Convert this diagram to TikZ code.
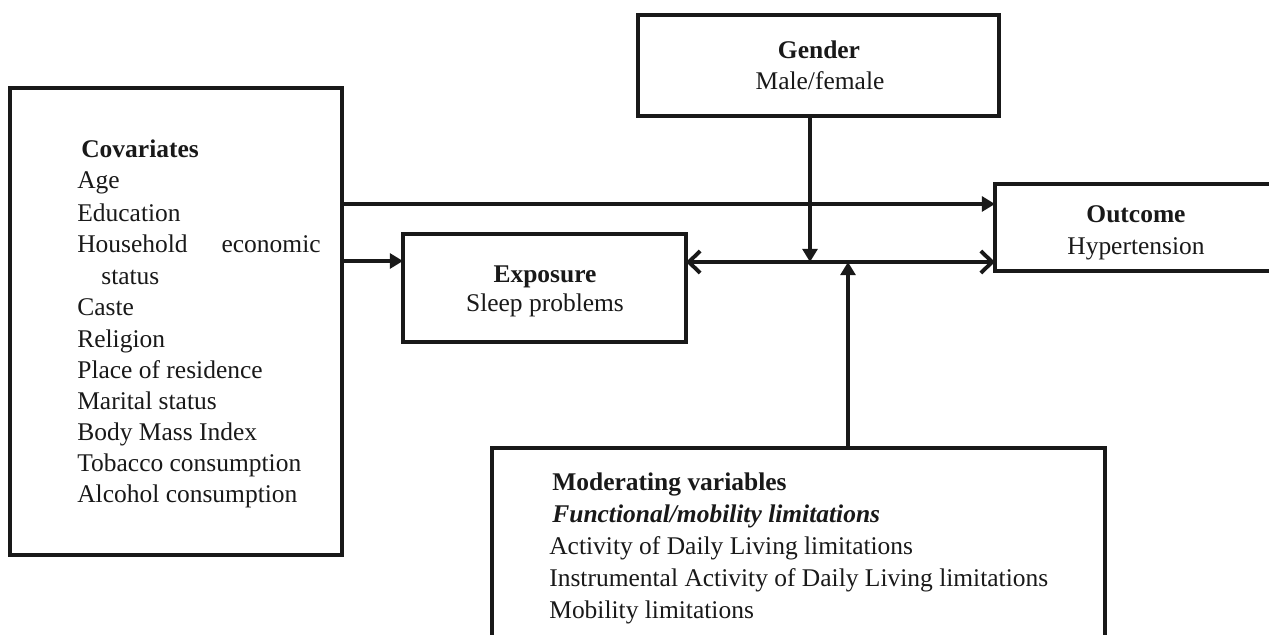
\documentclass[tikz,border=0pt]{standalone}
\usepackage{fontspec}
\setmainfont{Liberation Serif}
\usetikzlibrary{arrows.meta}
\begin{document}
\begin{tikzpicture}[x=0.02cm,y=-0.02cm,
  box/.style={draw=black!90,line width=2.2pt},
  txt/.style={inner sep=0pt,anchor=base west,font=\fontsize{14.5}{17}\selectfont,text=black!90},
  ctxt/.style={inner sep=0pt,anchor=base,font=\fontsize{14.5}{17}\selectfont,text=black!90},
  conn/.style={draw=black!90,line width=2.2pt,-{Triangle[length=7.5pt,width=8.5pt]}},
  dconn/.style={draw=black!90,line width=2.2pt,{Straight Barb[length=6.5pt,width=12.5pt,line width=2.2pt]}-{Straight Barb[length=6.5pt,width=12.5pt,line width=2.2pt]}}]
\path[use as bounding box] (0,0) rectangle (1269,635);
\clip (0,0) rectangle (1269,635);
\fill[white] (0,0) rectangle (1269,635);
% boxes
\draw[box] (10,88) rectangle (342,555);
\draw[box] (638,15) rectangle (999,116);
\draw[box] (995,184) rectangle (1290,271);
\draw[box] (403,234) rectangle (686,342);
\draw[box] (492,448) rectangle (1105,660);
\coordinate (covR1) at (342,204);
\coordinate (covR2) at (342,261);
\coordinate (outL1) at (995,204);
\coordinate (outL2) at (995,262);
\coordinate (expL) at (403,261);
\coordinate (expR) at (686,262);
\coordinate (genB) at (810,116);
\coordinate (genT) at (810,262);
\coordinate (modT) at (848,448);
\coordinate (modA) at (848,262);
% texts
\node[ctxt] (g1) at (819,59) {\textbf{Gender}};
\node[ctxt] (g2) at (820,90) {Male/female};
\node[ctxt] (o1) at (1136,222) {\textbf{Outcome}};
\node[ctxt] (o2) at (1136,255) {Hypertension};
\node[ctxt] (e1) at (545,282) {\textbf{Exposure}};
\node[ctxt] (e2) at (545,312) {Sleep problems};
\node[txt] (c0) at (81,158) {\textbf{Covariates}};
\node[txt] (c1) at (77,189) {Age};
\node[txt] (c2) at (77,221) {Education};
\node[txt] (c3a) at (77,253) {Household};
\node[txt,anchor=base east] (c3b) at (321,253) {economic};
\node[txt] (c3c) at (101,284) {status};
\node[txt] (c4) at (77,316) {Caste};
\node[txt] (c5) at (77,347) {Religion};
\node[txt] (c6) at (77,378) {Place of residence};
\node[txt] (c7) at (77,409) {Marital status};
\node[txt] (c8) at (77,440) {Body Mass Index};
\node[txt] (c9) at (77,471) {Tobacco consumption};
\node[txt] (c10) at (77,502) {Alcohol consumption};
\node[txt] (m0) at (552,490) {\textbf{Moderating variables}};
\node[txt] (m1) at (552,522) {\textbf{\textit{Functional/mobility limitations}}};
\node[txt] (m2) at (549,554) {Activity of Daily Living limitations};
\node[txt] (m3) at (549,586) {Instrumental Activity of Daily Living limitations};
\node[txt] (m4) at (549,618) {Mobility limitations};
% connectors
\draw[conn] (covR1) -- (outL1);
\draw[conn] (covR2) -- (expL);
\draw[dconn] (expR) -- (outL2);
\draw[conn] (genB) -- (genT);
\draw[conn] (modT) -- (modA);
\end{tikzpicture}
\end{document}
